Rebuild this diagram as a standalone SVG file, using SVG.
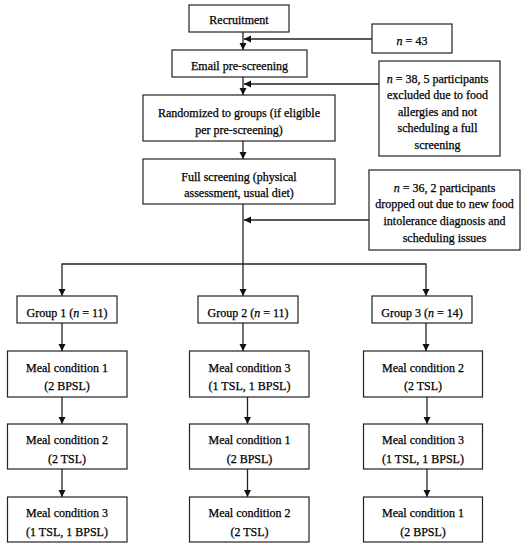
<svg xmlns="http://www.w3.org/2000/svg" width="531" height="550" viewBox="0 0 531 550" font-family="Liberation Serif, Times New Roman, serif">
<style>
.box{fill:#fff;stroke:#222;stroke-width:1.2}
.t{font-family:'Liberation Serif','Times New Roman',Times,serif;font-size:12px;fill:#000;stroke:#000;stroke-width:0.25;text-anchor:middle}
.c{fill:none;stroke:#222;stroke-width:1.3}
.i{font-style:italic}
</style>
<defs>
<marker id="ah" markerWidth="8" markerHeight="8" refX="7" refY="4" orient="auto" markerUnits="userSpaceOnUse">
<path d="M0,0.5 L7,4 L0,7.5 Z" fill="#111"/>
</marker>
</defs>
<rect width="531" height="550" fill="#fff"/>
<g id="connectors">
<line class="c" x1="243" y1="32" x2="243" y2="50" marker-end="url(#ah)"/>
<line class="c" x1="372" y1="39" x2="244" y2="39" marker-end="url(#ah)"/>
<line class="c" x1="243" y1="77" x2="243" y2="95" marker-end="url(#ah)"/>
<line class="c" x1="379" y1="84" x2="244" y2="84" marker-end="url(#ah)"/>
<line class="c" x1="243" y1="141" x2="243" y2="159" marker-end="url(#ah)"/>
<line class="c" x1="243" y1="204" x2="243" y2="264"/>
<line class="c" x1="369" y1="220" x2="244" y2="220" marker-end="url(#ah)"/>
<line class="c" x1="62" y1="264" x2="426" y2="264"/>
<line class="c" x1="62" y1="263.4" x2="62" y2="296" marker-end="url(#ah)"/>
<line class="c" x1="243" y1="264" x2="243" y2="296" marker-end="url(#ah)"/>
<line class="c" x1="426" y1="263.4" x2="426" y2="296" marker-end="url(#ah)"/>
<line class="c" x1="62" y1="323" x2="62" y2="351" marker-end="url(#ah)"/>
<line class="c" x1="243" y1="323" x2="243" y2="351" marker-end="url(#ah)"/>
<line class="c" x1="426" y1="323" x2="426" y2="351" marker-end="url(#ah)"/>
<line class="c" x1="62" y1="397" x2="62" y2="424" marker-end="url(#ah)"/>
<line class="c" x1="247.5" y1="397" x2="247.5" y2="424" marker-end="url(#ah)"/>
<line class="c" x1="427" y1="397" x2="427" y2="424" marker-end="url(#ah)"/>
<line class="c" x1="62" y1="469" x2="62" y2="497" marker-end="url(#ah)"/>
<line class="c" x1="247.5" y1="469" x2="247.5" y2="497" marker-end="url(#ah)"/>
<line class="c" x1="427" y1="469" x2="427" y2="497" marker-end="url(#ah)"/>
</g>
<g id="recruitment"><rect class="box" x="189" y="5" width="100" height="27"/><text class="t" x="239" y="24">Recruitment</text></g>
<g id="n43"><rect class="box" x="372" y="24" width="80" height="29"/><text class="t" x="412" y="45"><tspan class="i">n</tspan> = 43</text></g>
<g id="email"><rect class="box" x="172" y="50" width="135" height="27"/><text class="t" x="239.5" y="69.5">Email pre-screening</text></g>
<g id="n38"><rect class="box" x="379" y="61" width="121" height="95"/>
<text class="t" x="437.5" y="82.5"><tspan class="i">n</tspan> = 38, 5 participants</text>
<text class="t" x="437.5" y="99">excluded due to food</text>
<text class="t" x="437.5" y="115.5">allergies and not</text>
<text class="t" x="437.5" y="132">scheduling a full</text>
<text class="t" x="437.5" y="148.5">screening</text></g>
<g id="randomized"><rect class="box" x="143" y="95" width="192" height="46"/>
<text class="t" x="239" y="117">Randomized to groups (if eligible</text>
<text class="t" x="239" y="133.5">per pre-screening)</text></g>
<g id="fullscreening"><rect class="box" x="143" y="159" width="192" height="45"/>
<text class="t" x="239" y="181">Full screening (physical</text>
<text class="t" x="239" y="197">assessment, usual diet)</text></g>
<g id="n36"><rect class="box" x="369" y="170" width="151" height="80"/>
<text class="t" x="444.5" y="191.5"><tspan class="i">n</tspan> = 36, 2 participants</text>
<text class="t" x="444.5" y="208">dropped out due to new food</text>
<text class="t" x="444.5" y="224.5">intolerance diagnosis and</text>
<text class="t" x="444.5" y="241.5">scheduling issues</text></g>
<g id="group1"><rect class="box" x="17" y="296" width="100" height="27"/><text class="t" x="67" y="316.5">Group 1 (<tspan class="i">n</tspan> = 11)</text></g>
<g id="group2"><rect class="box" x="198" y="296" width="100" height="27"/><text class="t" x="248" y="316.5">Group 2 (<tspan class="i">n</tspan> = 11)</text></g>
<g id="group3"><rect class="box" x="372" y="296" width="100" height="27"/><text class="t" x="422" y="316.5">Group 3 (<tspan class="i">n</tspan> = 14)</text></g>
<g id="g1m1"><rect class="box" x="7.5" y="351" width="119.5" height="46"/><text class="t" x="67" y="371.5">Meal condition 1</text><text class="t" x="67" y="390">(2 BPSL)</text></g>
<g id="g1m2"><rect class="box" x="7.5" y="424" width="119.5" height="45"/><text class="t" x="67" y="444">Meal condition 2</text><text class="t" x="67" y="462.5">(2 TSL)</text></g>
<g id="g1m3"><rect class="box" x="7.5" y="497" width="119.5" height="45"/><text class="t" x="67" y="517">Meal condition 3</text><text class="t" x="67" y="535.5">(1 TSL, 1 BPSL)</text></g>
<g id="g2m1"><rect class="box" x="189.5" y="351" width="119.5" height="46"/><text class="t" x="249.5" y="371.5">Meal condition 3</text><text class="t" x="249.5" y="390">(1 TSL, 1 BPSL)</text></g>
<g id="g2m2"><rect class="box" x="189.5" y="424" width="119.5" height="45"/><text class="t" x="249.5" y="444">Meal condition 1</text><text class="t" x="249.5" y="462.5">(2 BPSL)</text></g>
<g id="g2m3"><rect class="box" x="189.5" y="497" width="119.5" height="45"/><text class="t" x="249.5" y="517">Meal condition 2</text><text class="t" x="249.5" y="535.5">(2 TSL)</text></g>
<g id="g3m1"><rect class="box" x="363.5" y="351" width="119" height="46"/><text class="t" x="423" y="371.5">Meal condition 2</text><text class="t" x="423" y="390">(2 TSL)</text></g>
<g id="g3m2"><rect class="box" x="363.5" y="424" width="119" height="45"/><text class="t" x="423" y="444">Meal condition 3</text><text class="t" x="423" y="462.5">(1 TSL, 1 BPSL)</text></g>
<g id="g3m3"><rect class="box" x="363.5" y="497" width="119" height="45"/><text class="t" x="423" y="517">Meal condition 1</text><text class="t" x="423" y="535.5">(2 BPSL)</text></g>
</svg>
